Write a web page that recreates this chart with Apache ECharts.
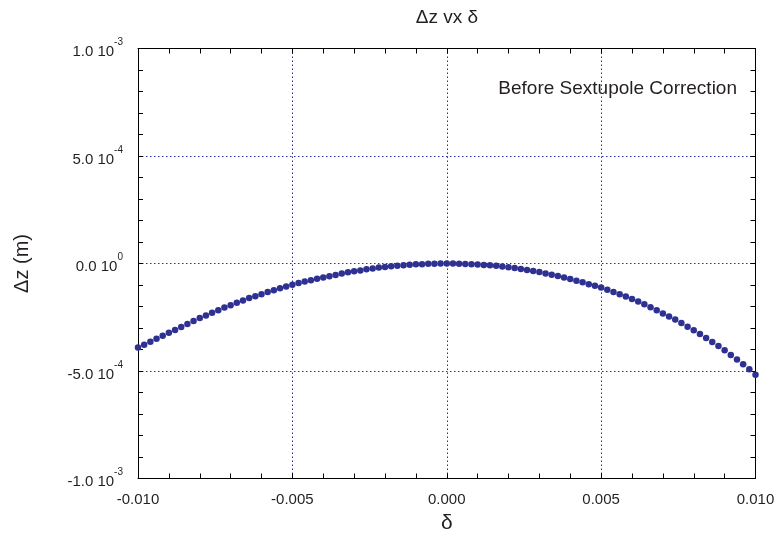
<!DOCTYPE html>
<html>
<head>
<meta charset="utf-8">
<script src="https://cdn.jsdelivr.net/npm/echarts@6/dist/echarts.min.js"></script>
<style>
html,body{margin:0;padding:0;background:#fff;}
#chart{width:777px;height:536px;}
</style>
</head>
<body>
<div id="chart"></div>
<script>
// ---- data ----
const delta = [
  -0.0100,-0.0098,-0.0096,-0.0094,-0.0092,-0.0090,-0.0088,-0.0086,-0.0084,-0.0082,
  -0.0080,-0.0078,-0.0076,-0.0074,-0.0072,-0.0070,-0.0068,-0.0066,-0.0064,-0.0062,
  -0.0060,-0.0058,-0.0056,-0.0054,-0.0052,-0.0050,-0.0048,-0.0046,-0.0044,-0.0042,
  -0.0040,-0.0038,-0.0036,-0.0034,-0.0032,-0.0030,-0.0028,-0.0026,-0.0024,-0.0022,
  -0.0020,-0.0018,-0.0016,-0.0014,-0.0012,-0.0010,-0.0008,-0.0006,-0.0004,-0.0002,
  0.0000,
  0.0002,0.0004,0.0006,0.0008,0.0010,0.0012,0.0014,0.0016,0.0018,0.0020,
  0.0022,0.0024,0.0026,0.0028,0.0030,0.0032,0.0034,0.0036,0.0038,0.0040,
  0.0042,0.0044,0.0046,0.0048,0.0050,0.0052,0.0054,0.0056,0.0058,0.0060,
  0.0062,0.0064,0.0066,0.0068,0.0070,0.0072,0.0074,0.0076,0.0078,0.0080,
  0.0082,0.0084,0.0086,0.0088,0.0090,0.0092,0.0094,0.0096,0.0098,0.0100
];
const dz = [
  -3.91e-4,-3.78e-4,-3.64e-4,-3.50e-4,-3.36e-4,-3.22e-4,-3.09e-4,-2.95e-4,-2.81e-4,-2.68e-4,
  -2.54e-4,-2.42e-4,-2.29e-4,-2.17e-4,-2.05e-4,-1.94e-4,-1.83e-4,-1.72e-4,-1.61e-4,-1.52e-4,
  -1.43e-4,-1.33e-4,-1.24e-4,-1.15e-4,-1.07e-4,-0.99e-4,-0.91e-4,-0.84e-4,-0.78e-4,-0.71e-4,
  -0.65e-4,-0.59e-4,-0.53e-4,-0.47e-4,-0.41e-4,-0.36e-4,-0.32e-4,-0.27e-4,-0.23e-4,-0.19e-4,
  -0.16e-4,-0.13e-4,-0.10e-4,-0.08e-4,-0.06e-4,-0.04e-4,-0.03e-4,-0.015e-4,-0.007e-4,-0.002e-4,
  0,
  -0.003e-4,-0.012e-4,-0.025e-4,-0.038e-4,-0.05e-4,-0.065e-4,-0.085e-4,-0.11e-4,-0.14e-4,-0.18e-4,
  -0.215e-4,-0.26e-4,-0.305e-4,-0.35e-4,-0.40e-4,-0.46e-4,-0.52e-4,-0.585e-4,-0.65e-4,-0.72e-4,
  -0.80e-4,-0.875e-4,-0.96e-4,-1.04e-4,-1.12e-4,-1.22e-4,-1.32e-4,-1.43e-4,-1.54e-4,-1.65e-4,
  -1.77e-4,-1.90e-4,-2.04e-4,-2.18e-4,-2.32e-4,-2.46e-4,-2.61e-4,-2.77e-4,-2.94e-4,-3.11e-4,
  -3.28e-4,-3.46e-4,-3.65e-4,-3.84e-4,-4.04e-4,-4.25e-4,-4.47e-4,-4.69e-4,-4.92e-4,-5.17e-4
];
const xTickLabels = ['-0.010','-0.005','0.000','0.005','0.010'];
const yTickMantissa = ['-1.0 10','-5.0 10','0.0 10','5.0 10','1.0 10'];
const yTickExponent = ['-3','-4','0','-4','-3'];
const chartTitle = 'Δz vx δ';
const xName = 'δ';
const yName = 'Δz (m)';
const note = 'Before Sextupole Correction';

// ---- chart ----
const FONT = "'Liberation Sans', Arial, Helvetica, sans-serif";
const TXT = '#231f20';
const xMin = -0.01, xMax = 0.01, xInt = 0.005;
const yMin = -0.001, yMax = 0.001, yInt = 0.0005;
const gridL = 138, gridR = 21.5, gridT = 48.5, gridB = 57.5;

const pts = delta.map((d, i) => [d, dz[i]]);
const gridLine = { show: true, lineStyle: { color: '#2b2e8f', width: 1, type: [1.5, 2.5] } };
const frame = { show: true, onZero: false, lineStyle: { color: '#000', width: 1 } };
const tick = { show: true, inside: true, length: 5, lineStyle: { color: '#000' } };
const minor = { show: true, splitNumber: 5, length: 5, lineStyle: { color: '#000' } };

const chart = echarts.init(document.getElementById('chart'), null, { renderer: 'canvas' });
chart.setOption({
  animation: false,
  backgroundColor: '#fff',
  grid: { left: gridL, right: gridR, top: gridT, bottom: gridB, containLabel: false, outerBoundsMode: 'none' },
  xAxis: [
    {
      type: 'value', position: 'bottom', min: xMin, max: xMax, interval: xInt,
      axisLine: frame, axisTick: tick, minorTick: minor, splitLine: gridLine,
      axisLabel: {
        margin: 14, color: TXT, fontFamily: FONT, fontSize: 15,
        formatter: v => xTickLabels[Math.round((v - xMin) / xInt)]
      },
      name: xName, nameLocation: 'middle', nameGap: 32,
      nameTextStyle: { color: TXT, fontFamily: FONT, fontSize: 21 }
    },
    {
      type: 'value', position: 'top', min: xMin, max: xMax, interval: xInt,
      axisLine: frame, axisTick: tick, minorTick: minor,
      splitLine: { show: false }, axisLabel: { show: false }
    }
  ],
  yAxis: [
    {
      type: 'value', position: 'left', min: yMin, max: yMax, interval: yInt,
      axisLine: frame, axisTick: tick, minorTick: minor, splitLine: gridLine,
      axisLabel: {
        margin: 15,
        formatter: v => {
          const i = Math.round((v - yMin) / yInt);
          return '{m|' + yTickMantissa[i] + '}{s|' + yTickExponent[i] + '}';
        },
        rich: {
          m: { fontFamily: FONT, fontSize: 15, color: TXT, lineHeight: 22, verticalAlign: 'bottom' },
          s: { fontFamily: FONT, fontSize: 10, color: TXT, lineHeight: 12, verticalAlign: 'top' }
        }
      },
      name: yName, nameLocation: 'middle', nameGap: 106,
      nameTextStyle: { color: TXT, fontFamily: FONT, fontSize: 20 }
    },
    {
      type: 'value', position: 'right', min: yMin, max: yMax, interval: yInt,
      axisLine: frame, axisTick: tick, minorTick: minor,
      splitLine: { show: false }, axisLabel: { show: false }
    }
  ],
  graphic: [
    {
      type: 'text', x: 447, y: 18,
      style: { text: chartTitle, fill: TXT, font: '19px ' + FONT, textAlign: 'center', textVerticalAlign: 'middle' }
    },
    {
      type: 'text', x: 737, y: 89,
      style: { text: note, fill: TXT, font: '19px ' + FONT, textAlign: 'right', textVerticalAlign: 'middle' }
    }
  ],
  series: [
    {
      type: 'scatter', xAxisIndex: 0, yAxisIndex: 0,
      data: pts, symbol: 'circle', symbolSize: 6.5,
      itemStyle: { color: '#2e3192', opacity: 1 }
    }
  ]
});
</script>
</body>
</html>
